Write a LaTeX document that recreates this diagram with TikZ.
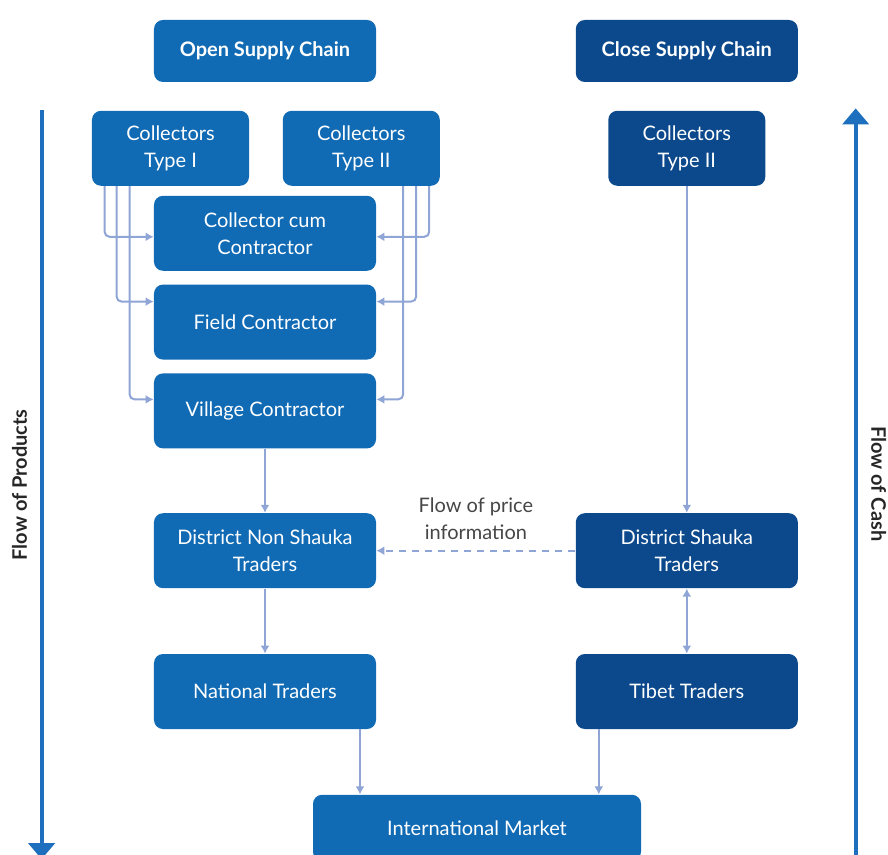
\documentclass[tikz,border=0pt]{standalone}
\usepackage{fontspec}
\setmainfont{Lato}
\usetikzlibrary{arrows.meta, positioning, calc}
\definecolor{openblue}{RGB}{16,106,180}
\definecolor{closeblue}{RGB}{11,73,140}
\definecolor{linkblue}{RGB}{143,165,214}
\definecolor{flowblue}{RGB}{30,112,190}
\definecolor{infogray}{RGB}{70,70,70}
\tikzset{
  box/.style  = {rectangle, rounded corners=4.5pt, fill=openblue, text=white,
                 align=center, font=\fontsize{10}{13.5}\selectfont,
                 minimum width=111pt, minimum height=37.5pt, inner sep=2pt},
  dbox/.style = {box, fill=closeblue},
  cbox/.style = {box, minimum width=78.5pt},
  head/.style = {box, font=\fontsize{10}{12}\selectfont\bfseries,
                 minimum height=31pt},
  arr/.style  = {-{Latex[length=4pt, width=4.5pt]}, draw=linkblue, line width=1pt},
  arrb/.style = {arr, {Latex[length=4pt, width=4.5pt]}-{Latex[length=4pt, width=4.5pt]}},
  link/.style = {arr, rounded corners=2.5pt},
  info/.style = {arr, dash pattern=on 3.5pt off 3pt},
  flow/.style = {-{Triangle[length=8pt, width=13pt]}, draw=flowblue, line width=2pt},
  flbl/.style = {font=\fontsize{10}{12}\selectfont\bfseries, text=black!85},
  lbl/.style  = {font=\fontsize{10}{13.5}\selectfont, text=infogray, align=center}
}

\begin{document}
\begin{tikzpicture}

  \useasboundingbox (-132.5pt,25.5pt) rectangle (311.5pt,-402pt);

  % ── Column heads ──────────────────────────────────────────────────────────
  \node[head]                              (open)   {Open Supply Chain};
  \node[head, fill=closeblue, right=99.5pt of open] (close) {Close Supply Chain};

  % ── Collectors ────────────────────────────────────────────────────────────
  \node[cbox, below=14pt of open, xshift=-47.25pt] (colI)   {Collectors\\Type I};
  \node[cbox, right=16.5pt of colI]        (colII)  {Collectors\\Type II};
  \node[cbox, fill=closeblue, below=14pt of close] (colIIc) {Collectors\\Type II};

  % ── Contractors ───────────────────────────────────────────────────────────
  \node[box, below=56.5pt of open]         (cum)     {Collector cum\\Contractor};
  \node[box, below=6.5pt of cum]           (field)   {Field Contractor};
  \node[box, below=6.5pt of field]         (village) {Village Contractor};

  % ── Traders ───────────────────────────────────────────────────────────────
  \node[box,  below=32pt of village]       (dns)  {District Non Shauka\\Traders};
  \node[dbox, right=99.5pt of dns]         (ds)   {District Shauka\\Traders};
  \node[box,  below=32.5pt of dns]         (nat)  {National Traders};
  \node[dbox, right=99.5pt of nat]         (tib)  {Tibet Traders};
  \node[box,  below=32.5pt of nat, xshift=106pt, minimum width=164pt,
        minimum height=33pt]               (intl) {International Market};

  % ── Collectors to contractors ─────────────────────────────────────────────
  \draw[link] ($(colI.south west)+(6.5pt,0)$)    |- ($(cum.west)+(0,-1.75pt)$);
  \draw[link] ($(colI.south west)+(12.5pt,0)$)   |- ($(field.west)+(0,10.25pt)$);
  \draw[link] ($(colI.south west)+(19pt,0)$)     |- ($(village.west)+(0,5.75pt)$);
  \draw[link] ($(colII.south east)+(-5.5pt,0)$)  |- ($(cum.east)+(0,-1.75pt)$);
  \draw[link] ($(colII.south east)+(-12pt,0)$)   |- ($(field.east)+(0,10.25pt)$);
  \draw[link] ($(colII.south east)+(-18.5pt,0)$) |- ($(village.east)+(0,5.75pt)$);

  % ── Trade chain ───────────────────────────────────────────────────────────
  \draw[arr]  (village) -- (dns);
  \draw[arr]  (dns)     -- (nat);
  \draw[arr]  (colIIc)  -- (ds);
  \draw[arrb] (ds)      -- (tib);

  \coordinate (natout) at ($(nat.south)+(47.5pt,0)$);
  \coordinate (tibout) at ($(tib.south)+(-44pt,0)$);
  \draw[arr] (natout) -- (natout |- intl.north);
  \draw[arr] (tibout) -- (tibout |- intl.north);

  % Price information
  \draw[info] (ds) -- node[lbl, above=1.5pt]{Flow of price\\information} (dns);

  % ── Flow of products / cash ───────────────────────────────────────────────
  \coordinate (prodtop) at ($(colI.north west)+(-25pt,0)$);
  \coordinate (prodend) at ($(prodtop |- intl.south)+(0,1pt)$);
  \coordinate (cashtop) at ($(colIIc.north east)+(45pt,1pt)$);
  \coordinate (cashend) at (cashtop |- prodend);

  \draw[flow] (prodtop) -- (prodend);
  \draw[flow] (cashend) -- (cashtop);

  \node[flbl, rotate=90]  (prodlbl) at ($(prodtop)!0.5!(prodend)+(-11pt,0)$) {Flow of Products};
  \node[flbl, rotate=-90] (cashlbl) at ($(cashtop)!0.5!(cashend)+(11.5pt,0)$) {Flow of Cash};

\end{tikzpicture}
\end{document}
